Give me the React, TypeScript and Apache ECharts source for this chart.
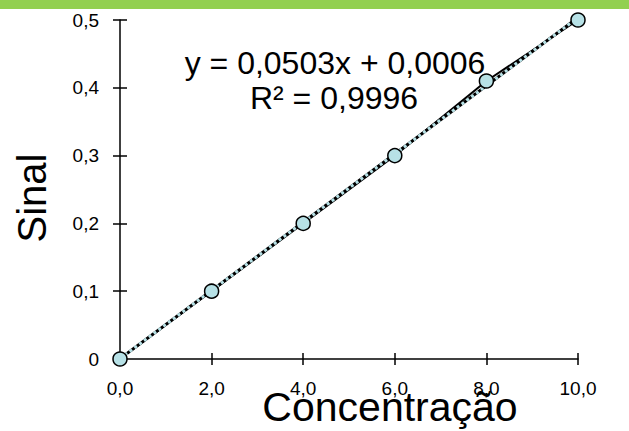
import React, { useEffect, useRef } from "react";
import * as echarts from "echarts";

const concentrations = [0, 2, 4, 6, 8, 10];
const signals = [0, 0.1, 0.2, 0.3, 0.41, 0.5];
const slope = 0.0503;
const intercept = 0.0006;
const equationText = "y = 0,0503x + 0,0006";
const r2Text = "R² = 0,9996";
const xTitle = "Concentração";
const yTitle = "Sinal";

const fmt = (v: number) => v.toFixed(1).replace(".", ",");

export default function App() {
  const ref = useRef<HTMLDivElement>(null);
  useEffect(() => {
    document.body.style.margin = "0";
    const chart = echarts.init(ref.current!, null, { renderer: "svg" });
    const points = concentrations.map((x, i) => [x, signals[i]]);
    const xMin = concentrations[0];
    const xMax = concentrations[concentrations.length - 1];
    const trend = [
      [xMin, slope * xMin + intercept],
      [xMax, slope * xMax + intercept],
    ];
    const font = "'Liberation Sans', Arial, sans-serif";
    const xBase = {
      type: "value" as const,
      min: 0,
      max: 10,
      interval: 2,
      position: "bottom" as const,
      splitLine: { show: false },
    };
    const yBase = {
      type: "value" as const,
      min: 0,
      max: 0.5,
      interval: 0.1,
      position: "left" as const,
      splitLine: { show: false },
    };
    chart.setOption({
      animation: false,
      backgroundColor: "#ffffff",
      grid: { left: 120, right: 51, top: 20, bottom: 72, outerBoundsMode: "none", containLabel: false },
      xAxis: [
        {
          ...xBase,
          axisLine: { show: true, lineStyle: { color: "#000", width: 1.5 } },
          axisTick: { show: true, inside: false, length: 6, lineStyle: { color: "#000", width: 1.5 } },
          axisLabel: {
            formatter: (v: number) => fmt(v),
            fontSize: 19,
            color: "#000",
            fontFamily: font,
            margin: 20,
            verticalAlign: "top",
          },
        },
        {
          ...xBase,
          axisLine: { show: false },
          axisTick: { show: true, inside: true, length: 6, lineStyle: { color: "#000", width: 1.5 } },
          axisLabel: { show: false },
        },
      ],
      yAxis: [
        {
          ...yBase,
          axisLine: { show: true, lineStyle: { color: "#000", width: 1.5 } },
          axisTick: { show: true, inside: false, length: 7, lineStyle: { color: "#000", width: 1.5 } },
          axisLabel: {
            formatter: (v: number) => (v === 0 ? "0" : fmt(v)),
            fontSize: 19,
            color: "#000",
            fontFamily: font,
            margin: 21,
          },
        },
        {
          ...yBase,
          axisLine: { show: false },
          axisTick: { show: true, inside: true, length: 7, lineStyle: { color: "#000", width: 1.5 } },
          axisLabel: { show: false },
        },
      ],
      graphic: [
        {
          type: "rect",
          shape: { x: 0, y: 0, width: 629, height: 9 },
          style: { fill: "#92d050" },
          z: 10,
        },
        {
          type: "text",
          x: 32,
          y: 198,
          rotation: Math.PI / 2,
          style: {
            text: yTitle,
            fontSize: 40,
            fill: "#000",
            fontFamily: font,
            textAlign: "center",
            textVerticalAlign: "middle",
          },
        },
        {
          type: "text",
          x: 390,
          y: 407,
          style: {
            text: xTitle,
            fontSize: 41,
            fill: "#000",
            fontFamily: font,
            textAlign: "center",
            textVerticalAlign: "middle",
          },
        },
        {
          type: "text",
          x: 335,
          y: 63,
          style: {
            text: equationText,
            fontSize: 32,
            fill: "#000",
            fontFamily: font,
            textAlign: "center",
            textVerticalAlign: "middle",
          },
        },
        {
          type: "text",
          x: 334,
          y: 98,
          style: {
            text: r2Text,
            fontSize: 32,
            fill: "#000",
            fontFamily: font,
            textAlign: "center",
            textVerticalAlign: "middle",
          },
        },
      ],
      series: [
        {
          type: "line",
          data: points,
          showSymbol: false,
          lineStyle: { color: "#000", width: 2 },
          z: 2,
        },
        {
          type: "line",
          data: trend,
          showSymbol: false,
          lineStyle: { color: "#000", width: 3 },
          z: 3,
        },
        {
          type: "line",
          data: trend,
          showSymbol: false,
          lineStyle: { color: "#b7e1e6", width: 3, type: [3, 3] },
          z: 4,
        },
        {
          type: "scatter",
          data: points,
          symbol: "circle",
          symbolSize: 14,
          itemStyle: { color: "#b7e1e6", borderColor: "#000", borderWidth: 1.5, opacity: 1 },
          z: 5,
        },
      ],
    });
    return () => chart.dispose();
  }, []);
  return <div ref={ref} style={{ width: 629, height: 431 }} />;
}
